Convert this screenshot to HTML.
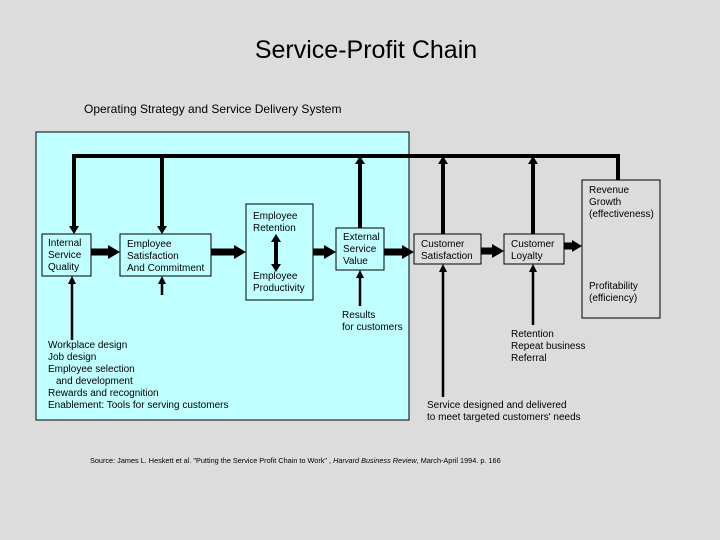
<!DOCTYPE html>
<html><head><meta charset="utf-8"><style>
body{margin:0;width:720px;height:540px;background:#dcdcdc;overflow:hidden}
svg{display:block}
text{font-family:"Liberation Sans",sans-serif;font-size:10px;fill:#000}
</style></head><body>
<svg width="720" height="540" viewBox="0 0 720 540">
<text x="366" y="58" text-anchor="middle" style="font-size:25px">Service-Profit Chain</text>
<text x="84" y="113" style="font-size:12px">Operating Strategy and Service Delivery System</text>
<rect x="36" y="132" width="373" height="288" fill="#c0ffff" stroke="#000" stroke-width="1"/>
<g stroke="#000" stroke-width="4" fill="none">
<path d="M618,180V156H74V226"/>
<line x1="162" y1="156" x2="162" y2="226"/>
<line x1="360" y1="228" x2="360" y2="164"/>
<line x1="443" y1="234" x2="443" y2="164"/>
<line x1="533" y1="234" x2="533" y2="164"/>
<line x1="276" y1="242" x2="276" y2="264"/>
</g>
<g fill="#000">
<polygon points="69,226 79,226 74,234"/>
<polygon points="157,226 167,226 162,234"/>
<polygon points="355,164 365,164 360,156"/>
<polygon points="438,164 448,164 443,156"/>
<polygon points="528,164 538,164 533,156"/>
<polygon points="271,242 281,242 276,234"/>
<polygon points="271,264 281,264 276,272"/>
</g>
<g fill="none" stroke="#000" stroke-width="1">
<rect x="42" y="234" width="49" height="42"/>
<rect x="120" y="234" width="91" height="42"/>
<rect x="246" y="204" width="67" height="96"/>
<rect x="336" y="228" width="48" height="42"/>
<rect x="414" y="234" width="67" height="30"/>
<rect x="504" y="234" width="60" height="30"/>
<rect x="582" y="180" width="78" height="138"/>
</g>
<g stroke="#000" stroke-width="7">
<line x1="91" y1="252" x2="110" y2="252"/>
<line x1="211" y1="252" x2="236" y2="252"/>
<line x1="313" y1="252" x2="326" y2="252"/>
<line x1="384" y1="252" x2="404" y2="252"/>
<line x1="481" y1="251" x2="494" y2="251"/>
<line x1="564" y1="246" x2="574" y2="246"/>
</g>
<g fill="#000">
<polygon points="108,245 120,252 108,259"/>
<polygon points="234,245 246,252 234,259"/>
<polygon points="324,245 336,252 324,259"/>
<polygon points="402,245 414,252 402,259"/>
<polygon points="492,244 504,251 492,258"/>
<polygon points="572,240 582,246 572,252"/>
</g>
<g stroke="#000" stroke-width="2.5">
<line x1="72" y1="340" x2="72" y2="282"/>
<line x1="162" y1="295" x2="162" y2="282"/>
<line x1="360" y1="306" x2="360" y2="276"/>
<line x1="443" y1="397" x2="443" y2="270"/>
<line x1="533" y1="325" x2="533" y2="270"/>
</g>
<g fill="#000">
<polygon points="68,284 76,284 72,276"/>
<polygon points="158,284 166,284 162,276"/>
<polygon points="356,278 364,278 360,270"/>
<polygon points="439,272 447,272 443,264"/>
<polygon points="529,272 537,272 533,264"/>
</g>
<text x="48" y="246">Internal</text><text x="48" y="258">Service</text><text x="48" y="270">Quality</text>
<text x="127" y="247">Employee</text><text x="127" y="259">Satisfaction</text><text x="127" y="271">And Commitment</text>
<text x="253" y="219">Employee</text><text x="253" y="231">Retention</text>
<text x="253" y="279">Employee</text><text x="253" y="291">Productivity</text>
<text x="343" y="240">External</text><text x="343" y="252">Service</text><text x="343" y="264">Value</text>
<text x="421" y="247">Customer</text><text x="421" y="259">Satisfaction</text>
<text x="511" y="247">Customer</text><text x="511" y="259">Loyalty</text>
<text x="589" y="193">Revenue</text><text x="589" y="205">Growth</text><text x="589" y="217">(effectiveness)</text>
<text x="589" y="289">Profitability</text><text x="589" y="301">(efficiency)</text>
<text x="342" y="318">Results</text><text x="342" y="330">for customers</text>
<text x="48" y="348">Workplace design</text><text x="48" y="360">Job design</text><text x="48" y="372">Employee selection</text><text x="56" y="384">and development</text><text x="48" y="396">Rewards and recognition</text><text x="48" y="408">Enablement: Tools for serving customers</text>
<text x="511" y="337">Retention</text><text x="511" y="349">Repeat business</text><text x="511" y="361">Referral</text>
<text x="427" y="408">Service designed and delivered</text><text x="427" y="420">to meet targeted customers' needs</text>
<text x="90" y="463" style="font-size:7.3px">Source: James L. Heskett et al. "Putting the Service Profit Chain to Work" , <tspan font-style="italic">Harvard Business Review</tspan>, March-April 1994. p. 166</text>
</svg>
</body></html>
